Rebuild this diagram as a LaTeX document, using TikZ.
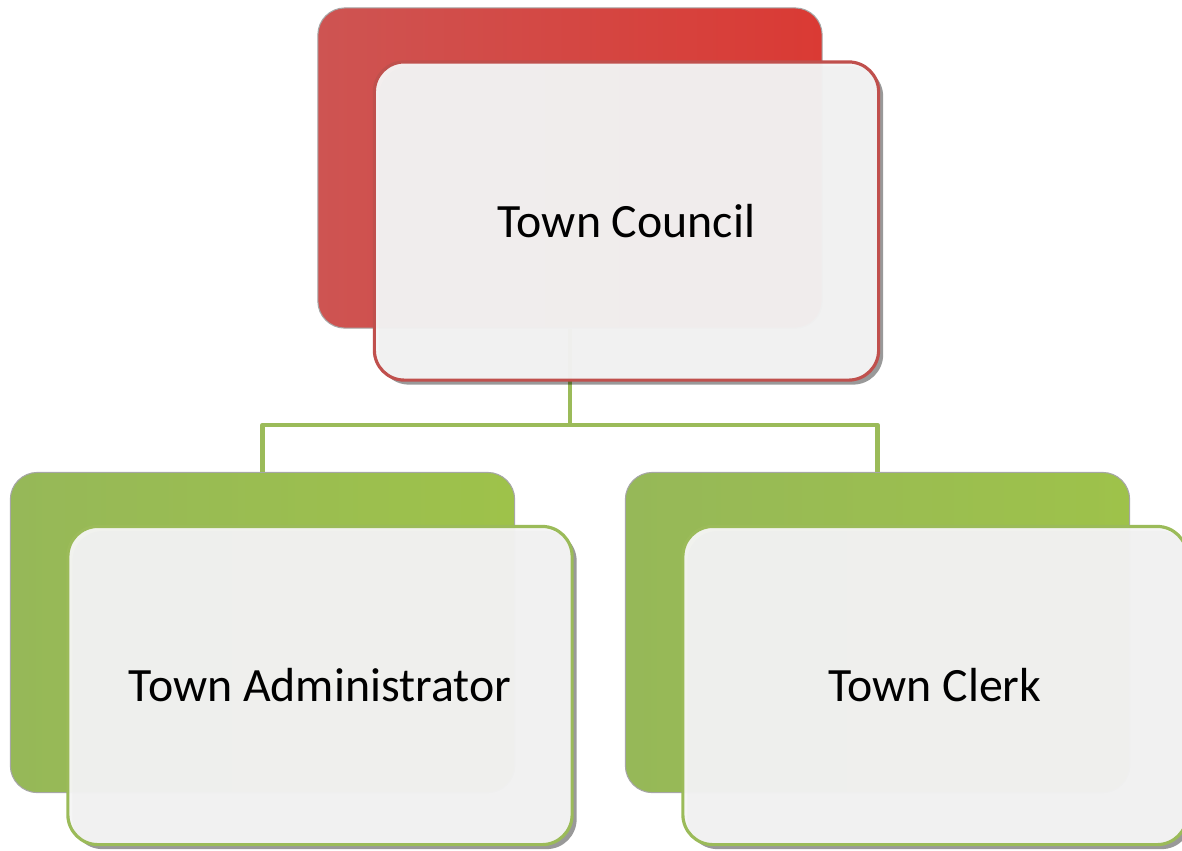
\documentclass[tikz,border=0pt]{standalone}
\usepackage{fontspec}
\setmainfont{Carlito}
\usetikzlibrary{shadows}
\definecolor{accred}{RGB}{192,80,77}
\definecolor{redleft}{RGB}{206,84,82}
\definecolor{redright}{RGB}{218,58,52}
\definecolor{accgreen}{RGB}{155,187,89}
\definecolor{greenleft}{RGB}{150,184,88}
\definecolor{greenright}{RGB}{158,194,74}
\definecolor{cardfill}{RGB}{245,245,245}
\tikzset{
  backbox/.style={rectangle, rounded corners=0.27cm, inner sep=0pt,
    minimum width=5.04cm, minimum height=3.2cm, draw=black!35, line width=0.3pt},
  frontbox/.style={rectangle, rounded corners=0.3cm, inner sep=0pt,
    minimum width=5.04cm, minimum height=3.18cm, fill=cardfill, fill opacity=0.96,
    text opacity=1, line width=0.9pt, font=\fontsize{13.6}{16}\selectfont,
    drop shadow={shadow xshift=0.045cm, shadow yshift=-0.045cm, opacity=0.4, fill=black}},
  link/.style={draw=accgreen, line width=1.3pt}
}
\begin{document}
\begin{tikzpicture}[x=0.01cm, y=-0.01cm]
		%%%%% START %%%%%
		\useasboundingbox (0, 0) rectangle (1182, 850);
		
		% back plates
		\node[backbox, left color=redleft, right color=redright] (councilback) at (570, 168) {};
		\node[backbox, left color=greenleft, right color=greenright] (adminback) at (262.5, 632.5) {};
		\node[backbox, left color=greenleft, right color=greenright] (clerkback) at (877.5, 632.5) {};
		
		% connectors
		\coordinate (bus) at (570, 425);
		\draw[link] (councilback.south) -- (bus);
		\draw[link, line join=round] (bus) -| (adminback.north);
		\draw[link, line join=round] (bus) -| (clerkback.north);
		
		% front cards
		\node[frontbox, draw=accred] (council) at (626.5, 221) {Town Council};
		\node[frontbox, draw=accgreen] (admin) at (320, 685.5) {Town Administrator};
		\node[frontbox, draw=accgreen] (clerk) at (935, 685.5) {Town Clerk};
		
		%%%%% END %%%%%
\end{tikzpicture}
\end{document}
